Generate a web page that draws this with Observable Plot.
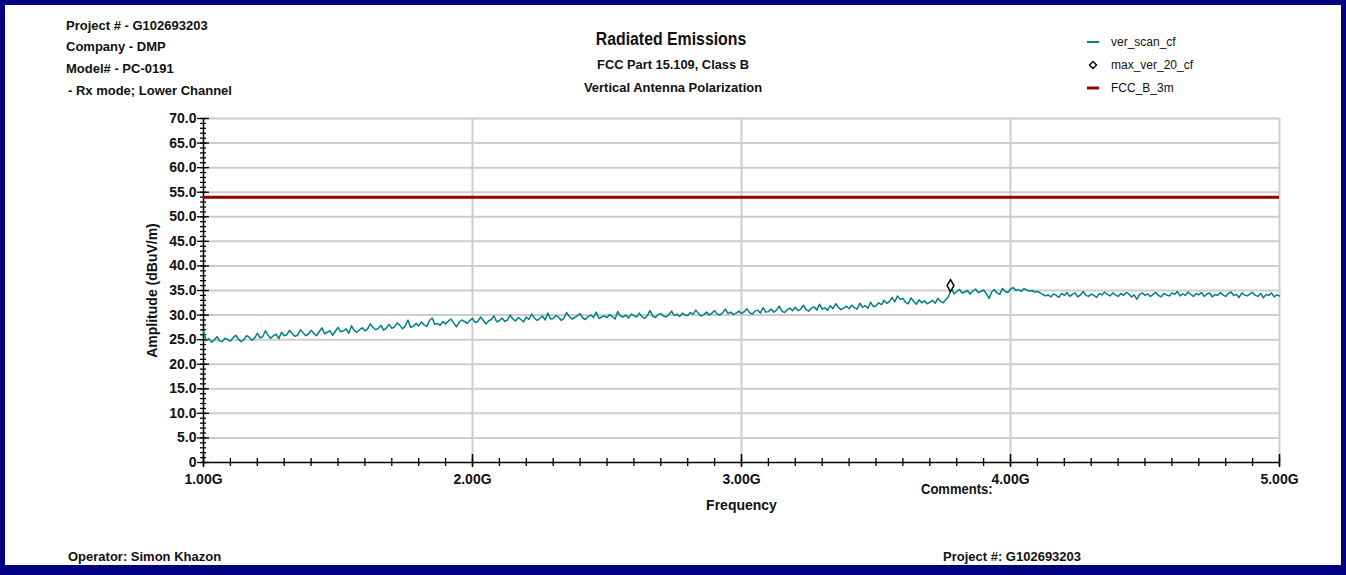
<!DOCTYPE html>
<html>
<head>
<meta charset="utf-8">
<script src="https://cdn.jsdelivr.net/npm/d3@7"></script>
<script src="https://cdn.jsdelivr.net/npm/@observablehq/plot@0.6"></script>
<style>
  html, body { margin: 0; padding: 0; background: #fff; }
  body { width: 1346px; height: 575px; position: relative; overflow: hidden;
         font-family: "Liberation Sans", Arial, sans-serif; }
  #frame { position: absolute; left: 0; top: 0; width: 1346px; height: 575px; box-sizing: border-box;
           border: 5px solid #000080; border-bottom-width: 10px; pointer-events: none; }
  .t { position: absolute; white-space: nowrap; font-weight: bold; transform: translateY(-50%); color: #111; }
  #chart { position: absolute; left: 0; top: 100px; }
  .leg { position: absolute; font-size: 12px; color: #111; white-space: nowrap; transform: translateY(-50%); }
</style>
</head>
<body>
<div id="chart"></div>
<div class="t" style="left:66px;top:25px;font-size:13px">Project # - G102693203</div>
<div class="t" style="left:66px;top:46px;font-size:13px">Company - DMP</div>
<div class="t" style="left:66px;top:68px;font-size:13px">Model# - PC-0191</div>
<div class="t" style="left:68px;top:90px;font-size:13px">- Rx mode; Lower Channel</div>
<div class="t" style="left:671px;top:39px;font-size:18px;transform:translate(-50%,-50%) scaleX(0.88)">Radiated Emissions</div>
<div class="t" style="left:673px;top:64px;font-size:13.5px;transform:translate(-50%,-50%) scaleX(0.95)">FCC Part 15.109, Class B</div>
<div class="t" style="left:673px;top:87px;font-size:13.5px;transform:translate(-50%,-50%) scaleX(0.96)">Vertical Antenna Polarization</div>
<div id="legend"></div>
<div class="t" style="left:921px;top:489px;font-size:14px;transform-origin:left center;transform:translateY(-50%) scaleX(0.93)">Comments:</div>
<div class="t" style="left:68px;top:556px;font-size:13px">Operator: Simon Khazon</div>
<div class="t" style="left:943px;top:556px;font-size:13px">Project #: G102693203</div>
<div id="frame"></div>
<script>
// ---- data ----
const freqStartGHz = 1.0;
const freqStepGHz = 0.01;
const verScanCf = [
26.6,24.8,25.2,24.5,24.9,25.6,24.7,24.6,25.3,25.0,
24.7,25.4,25.9,25.1,24.6,25.0,25.8,25.5,24.9,25.3,
26.3,25.4,25.6,26.8,25.9,25.3,25.8,26.1,25.2,26.5,
25.8,26.0,26.9,26.2,25.7,25.9,27.0,26.4,25.8,26.1,
26.9,26.3,25.8,26.6,27.4,26.2,26.5,26.8,25.9,26.7,
27.5,26.6,26.8,27.2,26.3,27.8,26.9,26.5,27.0,27.4,
26.8,27.2,28.2,27.5,27.0,27.3,27.9,26.9,27.4,28.1,
27.3,27.6,28.4,27.9,27.2,27.8,29.0,27.5,27.7,28.3,
27.8,28.6,28.0,27.7,28.9,29.4,28.1,28.3,27.9,28.7,
28.2,28.8,29.2,28.4,27.6,28.5,29.0,28.7,28.3,28.9,
29.3,28.5,28.7,29.6,28.9,28.2,28.8,29.1,29.8,28.6,
28.9,29.4,28.7,29.0,30.0,29.2,28.8,29.5,29.1,28.6,
29.6,29.1,30.2,29.4,28.9,29.3,29.8,29.0,30.4,29.2,
29.3,29.9,29.6,28.9,29.4,30.5,29.7,29.2,29.5,29.9,
30.3,29.4,29.1,29.7,30.0,29.5,30.6,29.3,29.6,29.8,
29.5,30.1,29.7,29.2,30.7,29.8,29.6,30.0,29.4,30.2,
29.9,29.6,30.4,29.7,29.3,29.9,30.9,29.8,29.5,30.1,
30.3,29.8,29.6,30.1,30.8,29.9,30.2,29.7,30.4,30.0,
29.9,30.5,30.2,31.0,30.3,29.8,30.1,30.6,30.0,30.4,
30.9,30.2,30.0,30.5,31.2,30.3,30.6,30.1,30.4,30.8,
30.3,30.7,31.3,30.5,30.2,30.8,31.0,30.4,31.5,30.6,
30.7,31.2,30.6,31.0,31.8,30.8,30.5,31.1,31.4,30.9,
31.6,30.9,31.2,32.0,31.1,30.8,31.4,31.7,31.0,32.2,
31.2,31.5,31.0,31.9,31.3,32.3,31.6,31.1,31.4,31.8,
31.3,32.0,31.5,31.2,32.4,31.6,31.9,31.4,32.6,31.7,
31.9,32.5,32.1,33.0,32.4,32.8,33.6,32.7,33.9,33.2,
33.4,32.6,32.3,33.5,32.8,32.2,33.1,32.5,32.9,32.3,
32.6,33.0,32.4,33.4,32.8,32.5,33.2,33.8,35.6,34.3,
34.8,35.2,34.5,34.7,35.0,34.3,34.9,35.3,34.6,34.8,
35.1,34.4,33.4,34.7,35.2,34.5,34.2,35.4,34.8,34.6,
35.3,35.6,35.0,35.2,34.8,35.4,35.1,34.9,35.0,34.7,
34.8,34.5,34.2,33.9,34.1,33.7,34.3,34.0,33.6,34.4,
34.0,34.6,33.8,34.2,34.5,33.7,34.1,34.8,34.0,33.8,
34.3,34.0,33.6,34.4,34.1,34.7,34.2,33.9,34.5,34.1,
33.8,34.4,34.0,34.6,34.3,33.7,34.1,33.2,34.2,34.5,
34.0,34.3,33.8,34.2,34.6,34.0,33.7,34.4,34.1,33.9,
34.5,34.2,34.8,33.9,34.3,34.0,34.7,34.2,33.8,34.4,
34.1,34.6,33.8,34.3,34.5,33.7,34.2,34.0,34.6,34.1,
33.8,34.4,34.7,34.0,34.2,33.6,34.5,34.1,33.9,34.3,
34.6,34.0,33.8,34.4,33.5,34.2,34.0,34.5,33.7,34.1,
33.9
];
const maxVerFreq = [3.777];
const maxVerValue = [36.0];
const fccLimit = [54.0];
const xTickValues = [1, 2, 3, 4, 5];
const yTickValues = [0, 5, 10, 15, 20, 25, 30, 35, 40, 45, 50, 55, 60, 65, 70];
const legendLabels = ["ver_scan_cf", "max_ver_20_cf", "FCC_B_3m"];

const scan = verScanCf.map((v, i) => ({f: +(freqStartGHz + i * freqStepGHz).toFixed(2), v}));
const peaks = maxVerFreq.map((f, i) => ({f, v: maxVerValue[i]}));

const teal = "#008080", red = "#990000", grid = "#cdcdcd";
const minorY = d3.range(0, 71, 1);
const minorX = d3.range(10, 51, 1).map(d => d / 10);
const fontCss = {fontFamily: '"Liberation Sans", Arial, sans-serif', fontWeight: "bold", fontSize: "14px", color: "#111"};

const chart = Plot.plot({
  width: 1346, height: 430,
  marginLeft: 203, marginRight: 67, marginTop: 18, marginBottom: 68,
  style: {...fontCss, background: "transparent", overflow: "visible"},
  x: {domain: [1, 5]},
  y: {domain: [0, 70]},
  marks: [
    Plot.gridY(yTickValues.filter(d => d > 0), {stroke: grid, strokeOpacity: 1, strokeWidth: 2}),
    Plot.gridX(xTickValues.filter(d => d > 1), {stroke: grid, strokeOpacity: 1, strokeWidth: 2}),
    // minor ticks, crossing the axis lines
    Plot.axisY({ticks: minorY, tickSize: 3, tickFormat: () => "", label: null, stroke: "#000", strokeWidth: 1.3}),
    Plot.axisY({ticks: minorY, tickSize: -3, tickFormat: () => "", label: null, stroke: "#000", strokeWidth: 1.3}),
    Plot.axisY({ticks: yTickValues, tickSize: 6, tickPadding: 1, tickFormat: d => d === 0 ? "0" : d.toFixed(1), label: null, stroke: "#000", strokeWidth: 1.3, fontSize: 14, fontWeight: "bold"}),
    Plot.axisY({ticks: yTickValues, tickSize: -6, tickFormat: () => "", label: null, stroke: "#000", strokeWidth: 1.3}),
    Plot.axisX({ticks: minorX, tickSize: 4, tickFormat: () => "", label: null, stroke: "#000", strokeWidth: 1.3}),
    Plot.axisX({ticks: minorX, tickSize: -4, tickFormat: () => "", label: null, stroke: "#000", strokeWidth: 1.3}),
    Plot.axisX({ticks: xTickValues, tickSize: 5, tickPadding: 7, tickFormat: d => d.toFixed(2) + "G", label: null, stroke: "#000", strokeWidth: 1.5, fontSize: 14, fontWeight: "bold"}),
    Plot.axisX({ticks: xTickValues, tickSize: -8, tickFormat: () => "", label: null, stroke: "#000", strokeWidth: 1.5}),
    Plot.ruleX([1], {stroke: "#000", strokeWidth: 1.5}),
    Plot.ruleY([0], {stroke: "#000", strokeWidth: 1.5}),
    Plot.ruleY(fccLimit, {stroke: red, strokeWidth: 3}),
    Plot.lineY(scan, {x: "f", y: "v", stroke: teal, strokeWidth: 1.5}),
    Plot.dot(peaks, {x: "f", y: "v", symbol: "diamond", r: 3.6, fill: "white", stroke: "#000", strokeWidth: 1.5}),
    Plot.text(["Amplitude (dBuV/m)"], {frameAnchor: "left", textAnchor: "middle", dx: -51, rotate: -90, fontSize: 14, fontWeight: "bold", fill: "#111", letterSpacing: "1.6px"}),
    Plot.text(["Frequency"], {frameAnchor: "bottom", dy: 47, fontSize: 14, fontWeight: "bold", fill: "#111"})
  ]
});
document.getElementById("chart").appendChild(chart);

// legend
const legend = document.getElementById("legend");
const icons = [
  `<svg width="14" height="8"><line x1="1" y1="4" x2="13" y2="4" stroke="${teal}" stroke-width="2"/></svg>`,
  `<svg width="14" height="10"><path d="M7,1.5 L10.5,5 L7,8.5 L3.5,5 Z" fill="white" stroke="#000" stroke-width="1.4"/></svg>`,
  `<svg width="14" height="8"><line x1="1" y1="4" x2="13" y2="4" stroke="${red}" stroke-width="3"/></svg>`
];
legendLabels.forEach((lab, i) => {
  const y = 42 + i * 23;
  const ic = document.createElement("div");
  ic.className = "leg";
  ic.style.left = "1086px"; ic.style.top = y + "px"; ic.style.lineHeight = "0";
  ic.innerHTML = icons[i];
  legend.appendChild(ic);
  const tx = document.createElement("div");
  tx.className = "leg";
  tx.style.left = "1111px"; tx.style.top = y + "px";
  tx.textContent = lab;
  legend.appendChild(tx);
});
</script>
</body>
</html>
